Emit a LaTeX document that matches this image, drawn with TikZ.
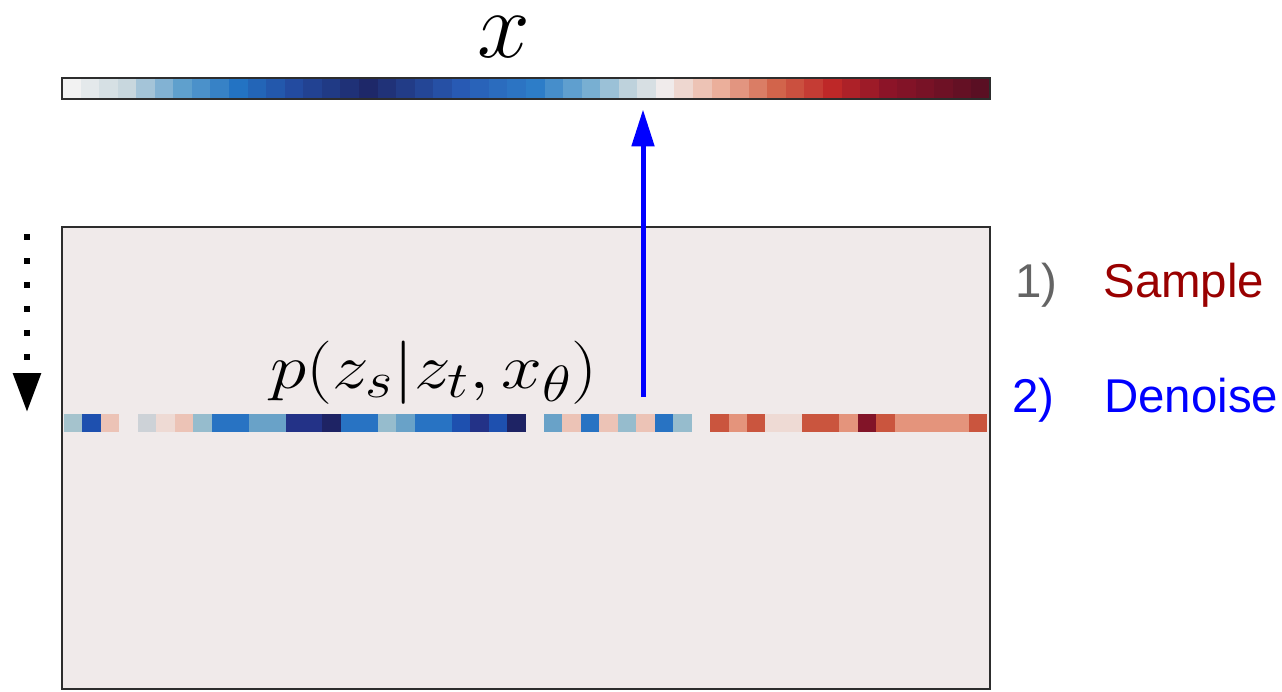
\RequirePackage{fix-cm}
\documentclass[tikz,border=0pt]{standalone}
\usepackage{graphicx}
\usepackage{fontspec}
\setsansfont{Liberation Sans}
\DeclareMathSizes{36}{36}{29}{23}
\usetikzlibrary{arrows.meta,positioning,calc}
% bar colours (key points)
\definecolor{k0}{RGB}{242,242,242}
\definecolor{k1}{RGB}{200,215,222}
\definecolor{k2}{RGB}{95,160,205}
\definecolor{k3}{RGB}{35,115,195}
\definecolor{k4}{RGB}{35,75,160}
\definecolor{k5}{RGB}{30,40,105}
\definecolor{k6}{RGB}{40,90,180}
\definecolor{k7}{RGB}{45,125,200}
\definecolor{k8}{RGB}{120,175,210}
\definecolor{k9}{RGB}{190,210,220}
\definecolor{k10}{RGB}{240,235,235}
\definecolor{k11}{RGB}{235,175,155}
\definecolor{k12}{RGB}{210,100,75}
\definecolor{k13}{RGB}{190,40,40}
\definecolor{k14}{RGB}{140,20,40}
\definecolor{k15}{RGB}{90,15,35}
% row colours
\definecolor{boxgray}{RGB}{240,234,234}
\definecolor{lbg}{RGB}{165,195,205}
\definecolor{blu}{RGB}{40,115,195}
\definecolor{bdk}{RGB}{30,80,175}
\definecolor{lsa}{RGB}{236,195,182}
\definecolor{lgr}{RGB}{205,210,215}
\definecolor{vlp}{RGB}{238,218,212}
\definecolor{lbl}{RGB}{150,188,205}
\definecolor{mbl}{RGB}{105,162,200}
\definecolor{nav}{RGB}{35,50,135}
\definecolor{ndk}{RGB}{30,35,100}
\definecolor{org}{RGB}{202,85,62}
\definecolor{sal}{RGB}{228,148,124}
\definecolor{mar}{RGB}{130,20,40}
\definecolor{framegray}{RGB}{45,45,45}
\definecolor{numgray}{RGB}{100,100,100}
\definecolor{samplered}{RGB}{153,0,0}

\begin{document}
\begin{tikzpicture}[x=0.02cm, y=-0.02cm,
    frame/.style={rectangle, draw=framegray, line width=1.6pt, inner sep=0},
    steplabel/.style={anchor=base west, inner sep=0, font=\fontsize{27}{32}\selectfont\sffamily}
]
\useasboundingbox (0,0) rectangle (1282,691);

% colour bar x
\foreach \a/\b/\ca/\cb in {0/3/k0/k1, 3/6/k1/k2, 6/9/k2/k3, 9/12/k3/k4, 12/16/k4/k5, 16/21/k5/k6,
    21/25/k6/k7, 25/28/k7/k8, 28/30/k8/k9, 30/32/k9/k10, 32/35/k10/k11, 35/38/k11/k12,
    38/41/k12/k13, 41/44/k13/k14, 44/49/k14/k15} {
  \foreach \i in {\a,...,\b} {
    \pgfmathtruncatemacro\p{100*(\b-\i)/(\b-\a)}
    \fill[\ca!\p!\cb] ({62+18.56*\i},79) rectangle ({62+18.56*(\i+1)},98);
  }
}
\node[frame, minimum width=18.56cm, minimum height=0.42cm] (bar) at (526,88.5) {};
\node[anchor=base, inner sep=0, font=\fontsize{54}{58}\selectfont] (xlabel) at (504,57) {$x$};

% latent box
\node[frame, fill=boxgray, minimum width=18.56cm, minimum height=9.24cm] (latent) at (526,458) {};

% noisy row z_t
\foreach \c [count=\i from 0] in {lbg,bdk,lsa,boxgray,lgr,vlp,lsa,lbl,blu,blu,
    mbl,mbl,nav,nav,ndk,blu,blu,lbl,mbl,blu,
    blu,bdk,nav,bdk,ndk,boxgray,mbl,lsa,blu,lsa,
    lbl,lsa,blu,lbl,boxgray,org,sal,org,vlp,vlp,
    org,org,sal,mar,org,sal,sal,sal,sal,org} {
  \fill[\c] ({64+18.46*\i},414) rectangle ++(18.46,18);
}

\node[anchor=base, inner sep=0, font=\fontsize{36}{40}\selectfont] (post) at (434,388)
  {\scalebox{1.16}[1]{$p(z_s|z_t,x_\theta)$}};

% denoise arrow
\coordinate (dn) at (643,397);
\draw[line width=0.1cm, blue, shorten >=0.18cm, -{Triangle[length=0.74cm, width=0.44cm]}] (dn) -- (dn |- bar.south);

% time direction
\coordinate (ttop) at (27,234);
\coordinate (tend) at (27,412);
\draw[line width=0.12cm, dash pattern=on 0.12cm off 0.36cm, -{Triangle[length=0.78cm, width=0.54cm]}] (ttop) -- (tend);

% steps
\node[steplabel, text=numgray] (one) at (1015,297) {1)};
\node[steplabel, text=samplered] (sample) at (1103,297) {Sample};
\node[steplabel, text=blue] (two) at (1012,412) {2)};
\node[steplabel, text=blue] (denoise) at (1104,412) {Denoise};

\end{tikzpicture}
\end{document}
